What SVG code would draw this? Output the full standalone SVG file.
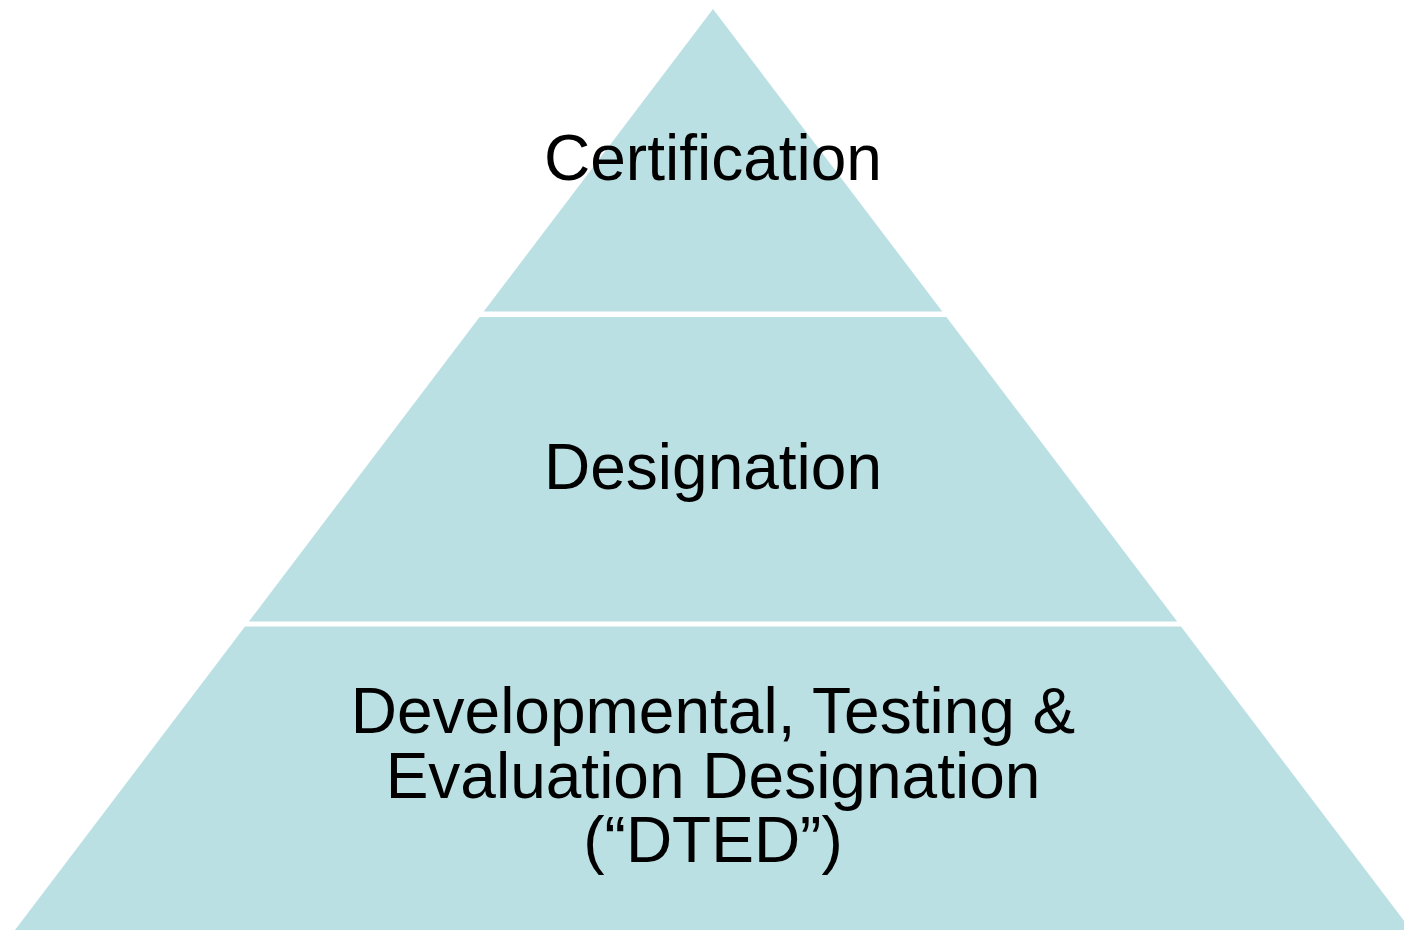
<svg xmlns="http://www.w3.org/2000/svg" width="1404" height="930" viewBox="0 0 1404 930">
  <style>
    .tier { fill: #BBE0E3; }
    .label { font-family: "Liberation Sans", Arial, sans-serif; font-size: 64px; fill: #000000; text-anchor: middle; }
  </style>
  <rect x="0" y="0" width="1404" height="930" fill="#FFFFFF"/>
  <!-- Top tier -->
  <g id="certification">
    <polygon class="tier" points="713,9 942.3,311.5 483.7,311.5"/>
    <text class="label" x="713" y="180">Certification</text>
  </g>
  <!-- Middle tier -->
  <g id="designation">
    <polygon class="tier" points="479.6,317 946.4,317 1177.2,621.5 248.8,621.5"/>
    <text class="label" x="713" y="489">Designation</text>
  </g>
  <!-- Base tier -->
  <g id="dted">
    <polygon class="tier" points="245,626.5 1181,626.5 1411,930 15,930"/>
    <text class="label" x="713" y="733">Developmental, Testing &amp;</text>
    <text class="label" x="713" y="798">Evaluation Designation</text>
    <text class="label" x="713" y="862">(“DTED”)</text>
  </g>
  <g id="connectors"/>
</svg>
